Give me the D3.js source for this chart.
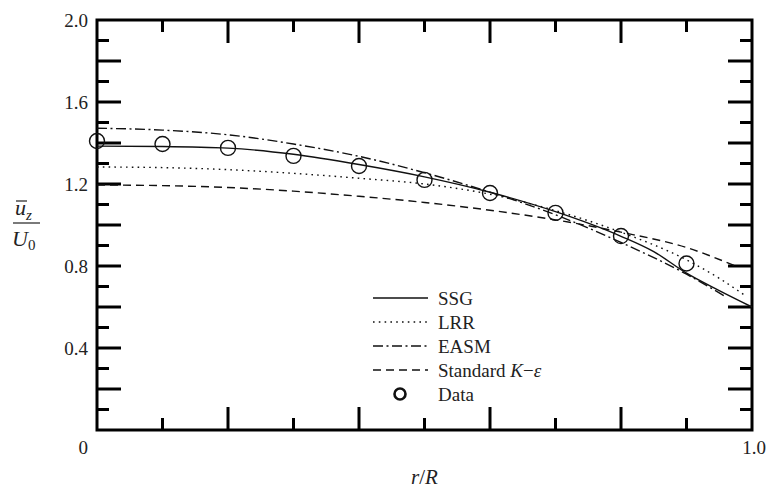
<!DOCTYPE html>
<html>
<head>
<meta charset="utf-8">
<script src="https://cdn.jsdelivr.net/npm/d3@7"></script>
<style>
  html, body { margin: 0; padding: 0; background: #fff; }
</style>
</head>
<body>
<svg id="chart" width="768" height="493"></svg>
<script>
// Axial mean velocity profiles ū_z/U0 against r/R
const ssgR   = [0, 0.1, 0.2, 0.3, 0.4, 0.5, 0.6, 0.7, 0.8, 0.85, 0.9, 0.95, 1.0];
const ssgU   = [1.385, 1.383, 1.375, 1.345, 1.295, 1.235, 1.16, 1.065, 0.945, 0.87, 0.765, 0.68, 0.6];
const lrrR   = [0, 0.1, 0.2, 0.3, 0.4, 0.5, 0.6, 0.7, 0.8, 0.9, 0.95, 0.99];
const lrrU   = [1.283, 1.28, 1.27, 1.252, 1.228, 1.2, 1.15, 1.07, 0.965, 0.83, 0.74, 0.655];
const easmR  = [0, 0.1, 0.2, 0.3, 0.4, 0.5, 0.6, 0.7, 0.8, 0.9, 0.96];
const easmU  = [1.472, 1.463, 1.44, 1.395, 1.335, 1.255, 1.16, 1.05, 0.915, 0.76, 0.65];
const keR    = [0, 0.1, 0.2, 0.3, 0.4, 0.5, 0.6, 0.7, 0.8, 0.9, 0.975];
const keU    = [1.195, 1.192, 1.183, 1.165, 1.14, 1.11, 1.072, 1.025, 0.965, 0.89, 0.8];
const dataR  = [0, 0.1, 0.2, 0.3, 0.4, 0.5, 0.6, 0.7, 0.8, 0.9];
const dataU  = [1.41, 1.395, 1.376, 1.337, 1.288, 1.22, 1.156, 1.059, 0.946, 0.812];

const yTickLabels = ["0.4", "0.8", "1.2", "1.6", "2.0"];
const legendNames = ["SSG", "LRR", "EASM", "Standard K\u2212\u03b5", "Data"];

const svg = d3.select("#chart");
const plotL = 97, plotR = 752, plotT = 20, plotB = 430;
const ink = "#222";
const serif = '"Liberation Serif", "Times New Roman", serif';

// serif text helper
const addText = (sel, size) => sel.append("text")
  .style("font-family", serif).attr("font-size", size).attr("fill", ink);

const x = d3.scaleLinear().domain([0, 1]).range([plotL, plotR]);
const y = d3.scaleLinear().domain([0, 2]).range([plotB, plotT]);

// tick marks (inward, long on even tenths, short on odd)
const tenths = d3.range(1, 10).map(i => i / 10);
const ytenths = d3.range(1, 20).map(i => i / 10);
const isLong = v => Math.round(v * 10) % 2 === 0;
const ticks = svg.append("g").attr("stroke", "#000").attr("stroke-width", 3);
tenths.forEach(v => {
  const len = isLong(v) ? 23 : 12;
  ticks.append("line").attr("x1", x(v)).attr("x2", x(v)).attr("y1", plotB).attr("y2", plotB - len);
  ticks.append("line").attr("x1", x(v)).attr("x2", x(v)).attr("y1", plotT).attr("y2", plotT + len);
});
ytenths.forEach(v => {
  const len = isLong(v) ? 24 : 12;
  ticks.append("line").attr("x1", plotL).attr("x2", plotL + len).attr("y1", y(v)).attr("y2", y(v));
  ticks.append("line").attr("x1", plotR).attr("x2", plotR - len).attr("y1", y(v)).attr("y2", y(v));
});

// frame
svg.append("rect")
  .attr("x", plotL).attr("y", plotT)
  .attr("width", plotR - plotL).attr("height", plotB - plotT)
  .attr("fill", "none").attr("stroke", "#000").attr("stroke-width", 3);

// y tick labels
yTickLabels.forEach(t => {
  addText(svg, 19).attr("x", 88).attr("y", y(+t)).attr("dy", "0.35em")
    .attr("text-anchor", "end").text(t);
});
// x labels
addText(svg, 19).attr("x", 88).attr("y", 447).attr("dy", "0.35em")
  .attr("text-anchor", "end").text("0");
addText(svg, 19).attr("x", x(1) + 2).attr("y", 447).attr("dy", "0.35em")
  .attr("text-anchor", "middle").text("1.0");

// axis titles
const xt = addText(svg, 21).attr("x", x(0.5)).attr("y", 484).attr("text-anchor", "middle");
xt.append("tspan").attr("font-style", "italic").text("r");
xt.append("tspan").text("/");
xt.append("tspan").attr("font-style", "italic").text("R");

const yl = svg.append("g");
const num = addText(yl, 22).attr("x", 15).attr("y", 215);
num.append("tspan").attr("font-style", "italic").text("u");
num.append("tspan").attr("font-style", "italic").attr("font-size", 15).attr("dy", 5).text("z");
yl.append("line").attr("x1", 16).attr("x2", 27).attr("y1", 201).attr("y2", 201)
  .attr("stroke", ink).attr("stroke-width", 1.2);
yl.append("line").attr("x1", 13).attr("x2", 40).attr("y1", 223).attr("y2", 223)
  .attr("stroke", ink).attr("stroke-width", 1.2);
const den = addText(yl, 22).attr("x", 12).attr("y", 246);
den.append("tspan").attr("font-style", "italic").text("U");
den.append("tspan").attr("font-size", 15).attr("dy", 4).text("0");

// model curves
const series = [
  { r: ssgR,  u: ssgU,  dash: null },
  { r: lrrR,  u: lrrU,  dash: "1.6 4.2" },
  { r: easmR, u: easmU, dash: "10 3.5 2 3.5" },
  { r: keR,   u: keU,   dash: "8 5" }
];
const line = d3.line().x(d => x(d[0])).y(d => y(d[1])).curve(d3.curveMonotoneX);
series.forEach(s => {
  svg.append("path")
    .datum(s.r.map((r, i) => [r, s.u[i]]))
    .attr("d", line)
    .attr("fill", "none").attr("stroke", "#111").attr("stroke-width", 1.4)
    .attr("stroke-dasharray", s.dash);
});

// measured data
svg.append("g").selectAll("circle")
  .data(dataR.map((r, i) => [r, dataU[i]]))
  .join("circle")
  .attr("cx", d => x(d[0])).attr("cy", d => y(d[1])).attr("r", 7.5)
  .attr("fill", "none").attr("stroke", "#111").attr("stroke-width", 1.4);

// legend
const lg = svg.append("g");
const lx0 = 373, lx1 = 428, tx = 438, ly0 = 298, dy = 24;
series.forEach((s, i) => {
  lg.append("line").attr("x1", lx0).attr("x2", lx1)
    .attr("y1", ly0 + i * dy).attr("y2", ly0 + i * dy)
    .attr("stroke", "#111").attr("stroke-width", 1.4)
    .attr("stroke-dasharray", s.dash);
});
lg.append("circle").attr("cx", 400).attr("cy", ly0 + 4 * dy).attr("r", 5.5)
  .attr("fill", "none").attr("stroke", "#111").attr("stroke-width", 2.6);
legendNames.forEach((n, i) => {
  const t = addText(lg, 19).attr("x", tx).attr("y", ly0 + i * dy).attr("dy", "0.35em");
  if (i === 3) {
    t.append("tspan").text("Standard ");
    t.append("tspan").attr("font-style", "italic").text("K");
    t.append("tspan").text("\u2212");
    t.append("tspan").attr("font-style", "italic").text("\u03b5");
  } else {
    t.text(n);
  }
});
</script>
</body>
</html>
